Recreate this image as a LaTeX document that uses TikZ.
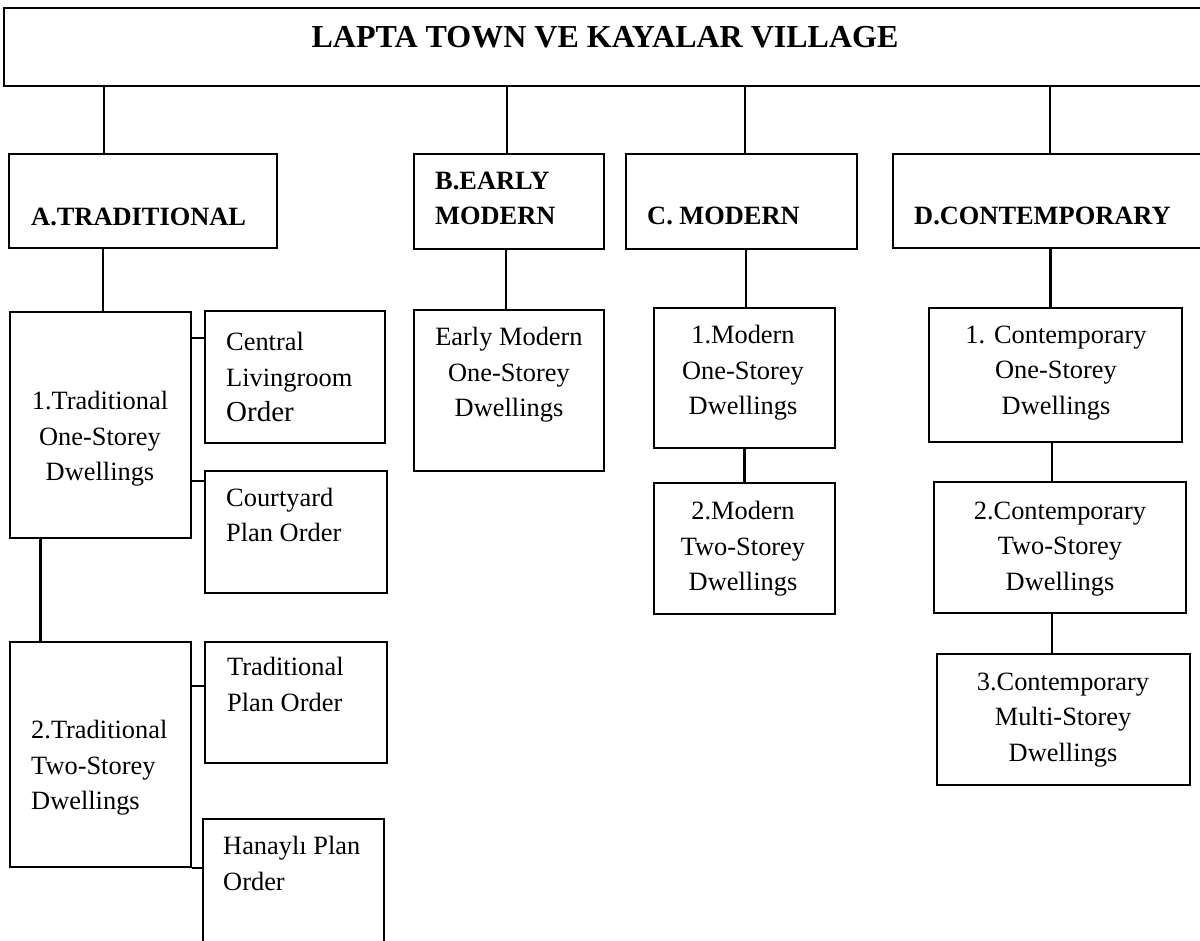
\documentclass[tikz,border=0pt]{standalone}
\usepackage{fontspec}
\setmainfont{Liberation Serif}
\usepackage{tikz}

\begin{document}
\begin{tikzpicture}[x=1pt, y=-1pt,
    every node/.style={font=\fontsize{26.4}{35.5}\selectfont},
    box/.style={draw, line width=2.2pt, inner sep=0pt},
    link/.style={line width=2.2pt},
    head/.style={inner sep=0pt, anchor=west, align=left, font=\fontsize{26.4}{35}\selectfont\bfseries},
    item/.style={inner sep=0pt, anchor=west, align=left},
    mid/.style={inner sep=0pt, align=center}]
  \useasboundingbox (0,0) rectangle (1200,941);
  \clip (0,0) rectangle (1200,941);

  % top
  \node[box, minimum width=1206, minimum height=78] (town) at (607,47) {};
  \node[inner sep=0pt, font=\fontsize{32}{38}\selectfont\bfseries] (townlbl) at (605,37.5) {LAPTA TOWN VE KAYALAR VILLAGE};

  % periods
  \node[box, minimum width=268, minimum height=94] (typA) at (143,201) {};
  \node[head] (typAlbl) at (31,217) {A.TRADITIONAL};
  \node[box, minimum width=190, minimum height=95] (typB) at (509,201.5) {};
  \node[head] (typBlbl) at (435,198.5) {B.EARLY\\MODERN};
  \node[box, minimum width=231, minimum height=95] (typC) at (741.5,201.5) {};
  \node[head] (typClbl) at (647,216) {C. MODERN};
  \node[box, minimum width=317, minimum height=94] (typD) at (1051.5,201) {};
  \node[head] (typDlbl) at (914,216) {D.CONTEMPORARY};

  % traditional
  \node[box, minimum width=181, minimum height=226] (trad1) at (100.5,425) {};
  \node[mid] (trad1lbl) at (100,439) {1.Traditional\\One-Storey\\Dwellings};
  \node[box, minimum width=180, minimum height=132] (central) at (295,377) {};
  \node[item] (centrallbl) at (226,377) {Central\\Livingroom\\{\fontsize{29}{35.5}\selectfont Order}};
  \node[box, minimum width=182, minimum height=122] (court) at (296,532) {};
  \node[item] (courtlbl) at (226,515) {Courtyard\\Plan Order};
  \node[box, minimum width=181, minimum height=225] (trad2) at (100.5,754.5) {};
  \node[item] (trad2lbl) at (31,768) {2.Traditional\\Two-Storey\\Dwellings};
  \node[box, minimum width=182, minimum height=121] (tplan) at (296,702.5) {};
  \node[item] (tplanlbl) at (227,684.5) {Traditional\\Plan Order};
  \node[box, minimum width=181, minimum height=141] (hanayli) at (293.5,889.5) {};
  \node[item] (hanaylilbl) at (223,863.5) {Hanaylı Plan\\Order};

  % early modern
  \node[box, minimum width=190, minimum height=161] (emod) at (509,390.5) {};
  \node[mid] (emodlbl) at (509,375) {Early Modern\\One-Storey\\Dwellings};

  % modern
  \node[box, minimum width=181, minimum height=140] (mod1) at (744.5,378) {};
  \node[mid] (mod1lbl) at (743,373) {1.Modern\\One-Storey\\Dwellings};
  \node[box, minimum width=181, minimum height=131] (mod2) at (744.5,548.5) {};
  \node[mid] (mod2lbl) at (743,549) {2.Modern\\Two-Storey\\Dwellings};

  % contemporary
  \node[box, minimum width=253, minimum height=134] (con1) at (1055.5,375) {};
  \node[mid] (con1lbl) at (1056,373) {1. Contemporary\\One-Storey\\Dwellings};
  \node[box, minimum width=252, minimum height=131] (con2) at (1060,547.5) {};
  \node[mid] (con2lbl) at (1060,549) {2.Contemporary\\Two-Storey\\Dwellings};
  \node[box, minimum width=253, minimum height=131] (con3) at (1063.5,719.5) {};
  \node[mid] (con3lbl) at (1063,720) {3.Contemporary\\Multi-Storey\\Dwellings};

  % links
  \path ([xshift=-39pt]typA.north) coordinate (aTop);
  \path ([xshift=-2pt]typB.north) coordinate (bTop);
  \path ([xshift=3.5pt]typC.north) coordinate (cTop);
  \path ([xshift=-1.5pt]typD.north) coordinate (dTop);
  \draw[link] (aTop |- town.south) -- (aTop);
  \draw[link] (bTop |- town.south) -- (bTop);
  \draw[link] (cTop |- town.south) -- (cTop);
  \draw[link] (dTop |- town.south) -- (dTop);

  \path ([xshift=-40pt]typA.south) coordinate (aBot);
  \draw[link] (aBot) -- (aBot |- trad1.north);
  \path ([yshift=39pt]central.west) coordinate (cenIn);
  \draw[link] (cenIn -| trad1.east) -- (cenIn);
  \path ([yshift=51pt]court.west) coordinate (courtIn);
  \draw[link] (courtIn -| trad1.east) -- (courtIn);
  \path ([xshift=-60pt]trad1.south) coordinate (t1Bot);
  \draw[link] (t1Bot) -- (t1Bot |- trad2.north);
  \path ([yshift=16.5pt]tplan.west) coordinate (tplanIn);
  \draw[link] (tplanIn -| trad2.east) -- (tplanIn);
  \draw[link] (trad2.south east) -- (trad2.south east -| hanayli.west);

  \path ([xshift=-3pt]typB.south) coordinate (bBot);
  \draw[link] (bBot) -- (bBot |- emod.north);

  \path ([xshift=4.5pt]typC.south) coordinate (cBot);
  \draw[link] (cBot) -- (cBot |- mod1.north);
  \draw[link] (mod1.south) -- (mod2.north);

  \path ([xshift=-1pt]typD.south) coordinate (dBot);
  \draw[link] (dBot) -- (dBot |- con1.north);
  \path ([xshift=-3.5pt]con1.south) coordinate (c1Bot);
  \draw[link] (c1Bot) -- (c1Bot |- con2.north);
  \path ([xshift=-8pt]con2.south) coordinate (c2Bot);
  \draw[link] (c2Bot) -- (c2Bot |- con3.north);
\end{tikzpicture}
\end{document}
